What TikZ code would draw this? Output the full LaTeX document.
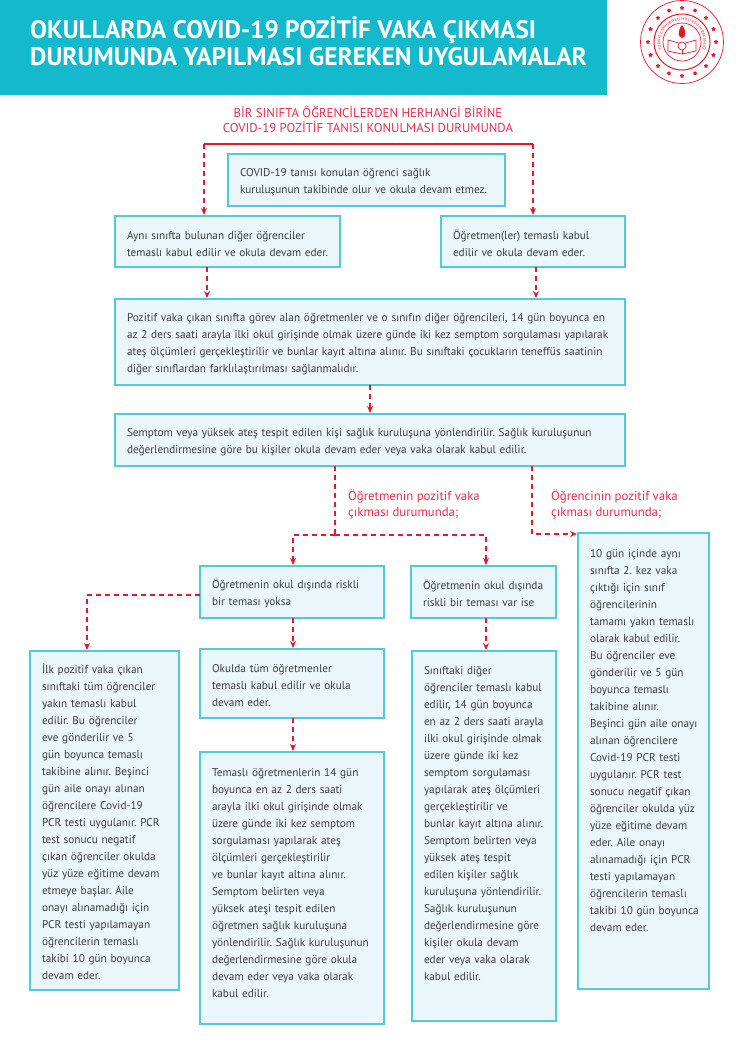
\documentclass[tikz,border=0pt]{standalone}
\usepackage{fontspec}
\setmainfont{PT Sans}
\usepackage{xcolor}
\definecolor{headcyan}{RGB}{20,185,204}
\definecolor{boxcyan}{RGB}{80,203,219}
\definecolor{boxfill}{RGB}{235,246,250}
\definecolor{flowred}{RGB}{232,24,44}
\definecolor{labelred}{RGB}{238,44,76}
\definecolor{bodygray}{RGB}{62,62,66}
\usepackage{tikz}
\usetikzlibrary{shapes.geometric, arrows.meta, positioning, calc, decorations.text}
\frenchspacing

\begin{document}
\begin{tikzpicture}[
    x=1pt, y=-1pt,
    box/.style={rectangle, draw=boxcyan, fill=boxfill, line width=1.4pt, anchor=north west, align=left, inner xsep=12pt, inner ysep=0pt, outer sep=0pt, text=bodygray, font=\fontsize{11.25}{17}\selectfont, execute at begin node={\rule{0pt}{13pt}}},
    widebox/.style={box, text width=486pt},
    arrow/.style={-{Stealth[length=7pt, width=6pt]}, flowred, line width=1.4pt, dash pattern=on 5pt off 4pt, shorten >=1pt},
    redlabel/.style={anchor=north west, align=left, inner sep=0pt, text=labelred, font=\fontsize{12.8}{16}\selectfont},
    logoline/.style={draw=flowred, line width=0.7pt}
]
\useasboundingbox (0,0) rectangle (750,1050);
\fill[white] (0,0) rectangle (750,1050);

% header band
\node[rectangle, fill=headcyan, anchor=north west, minimum width=607pt, minimum height=95pt, inner sep=0pt, outer sep=0pt] (band) at (0,0) {};
\node[anchor=north west, align=left, inner sep=0pt, text=white, font=\fontsize{25.3}{27}\selectfont\bfseries] (title) at (30,16.5) {OKULLARDA COVID-19 POZİTİF VAKA ÇIKMASI\\DURUMUNDA YAPILMASI GEREKEN UYGULAMALAR};

% logo
\node[circle, logoline, minimum size=83pt, inner sep=0pt] (logo) at (682,42) {};
\node[circle, logoline, line width=1pt, minimum size=56pt, inner sep=0pt] (logoin) at (682,42) {};
\node[circle, logoline, minimum size=38pt, inner sep=0pt] (logocore) at (682,42) {};
\foreach \a in {0,22.5,...,337.5}
    \node[star, star points=5, fill=flowred, minimum size=4.5pt, inner sep=0pt] at ($(logo.center)+(\a:34pt)$) {};
\path[postaction={decorate, decoration={text along path, text align=center, text={|\fontsize{3.9}{5}\selectfont\color{flowred}|TÜRKİYE CUMHURİYETİ MİLLİ EĞİTİM BAKANLIĞI}}}]
    ($(logo.center)+(235:21.5pt)$) arc[start angle=235, end angle=-55, radius=21.5pt];
\fill[flowred] ($(logo.center)+(0,-17)$) .. controls ($(logo.center)+(-5,-10)$) and ($(logo.center)+(-4,-5)$) .. ($(logo.center)+(0,-4)$) .. controls ($(logo.center)+(4,-5)$) and ($(logo.center)+(5,-10)$) .. ($(logo.center)+(0,-17)$);
\draw[logoline] ($(logo.center)+(-14,-2)$) -- ($(logo.center)+(0,2)$) -- ($(logo.center)+(14,-2)$) -- ($(logo.center)+(14,9)$) -- ($(logo.center)+(0,12)$) -- ($(logo.center)+(-14,9)$) -- cycle;
\draw[logoline] ($(logo.center)+(0,2)$) -- ($(logo.center)+(0,12)$);
\node[circle, fill=white, logoline, minimum size=8pt, inner sep=0pt] (logomoon) at ($(logo.center)+(0,4)$) {};

% heading
\node[anchor=north, align=center, inner sep=0pt, text=labelred, font=\fontsize{12.8}{15}\selectfont] (heading) at (368,106.5) {BİR SINIFTA ÖĞRENCİLERDEN HERHANGİ BİRİNE\\COVID-19 POZİTİF TANISI KONULMASI DURUMUNDA};
\coordinate (topl) at (204,144);
\coordinate (topr) at (533,144);

% boxes
\node[box, text width=253pt, minimum height=52pt] (covid) at (228,154) {COVID-19 tanısı konulan öğrenci sağlık\\kuruluşunun takibinde olur ve okula devam etmez.};
\node[box, text width=201pt, minimum height=51pt] (sinif) at (115,216) {Aynı sınıfta bulunan diğer öğrenciler\\\mbox{temaslı kabul edilir ve okula devam eder.}};
\node[box, text width=160pt, minimum height=51pt] (ogretmen) at (441,216) {Öğretmen(ler) temaslı kabul\\edilir ve okula devam eder.};
\node[widebox, minimum height=86pt] (pozitif) at (115,299) {Pozitif vaka çıkan sınıfta görev alan öğretmenler ve o sınıfın diğer öğrencileri, 14 gün boyunca en\\az 2 ders saati arayla ilki okul girişinde olmak üzere günde iki kez semptom sorgulaması yapılarak\\ateş ölçümleri gerçekleştirilir ve bunlar kayıt altına alınır. Bu sınıftaki çocukların teneffüs saatinin\\diğer sınıflardan farklılaştırılması sağlanmalıdır.};
\node[widebox, minimum height=52pt] (semptom) at (115,414) {Semptom veya yüksek ateş tespit edilen kişi sağlık kuruluşuna yönlendirilir. Sağlık kuruluşunun\\değerlendirmesine göre bu kişiler okula devam eder veya vaka olarak kabul edilir.};
\node[redlabel] (ogrlabel) at (348,490) {Öğretmenin pozitif vaka\\çıkması durumunda;};
\node[redlabel] (ogclabel) at (551,490) {Öğrencinin pozitif vaka\\çıkması durumunda;};
\node[box, text width=160pt, minimum height=52pt] (yoksa) at (200,566) {Öğretmenin okul dışında riskli\\bir teması yoksa};
\node[box, text width=121pt, minimum height=52pt] (varise) at (411,566) {Öğretmenin okul dışında\\riskli bir teması var ise};
\node[box, text width=125pt, minimum height=339pt] (ilk) at (30,651) {İlk pozitif vaka çıkan\\sınıftaki tüm öğrenciler\\yakın temaslı kabul\\edilir. Bu öğrenciler\\eve gönderilir ve 5\\gün boyunca temaslı\\takibine alınır. Beşinci\\gün aile onayı alınan\\öğrencilere Covid-19\\PCR testi uygulanır. PCR\\test sonucu negatif\\çıkan öğrenciler okulda\\yüz yüze eğitime devam\\etmeye başlar. Aile\\onayı alınamadığı için\\PCR testi yapılamayan\\öğrencilerin temaslı\\takibi 10 gün boyunca\\devam eder.};
\node[box, text width=160pt, minimum height=69pt] (okulda) at (200,649) {Okulda tüm öğretmenler\\temaslı kabul edilir ve okula\\devam eder.};
\node[box, text width=160pt, minimum height=272pt] (temasli) at (200,752) {Temaslı öğretmenlerin 14 gün\\boyunca en az 2 ders saati\\arayla ilki okul girişinde olmak\\üzere günde iki kez semptom\\sorgulaması yapılarak ateş\\ölçümleri gerçekleştirilir\\ve bunlar kayıt altına alınır.\\Semptom belirten veya\\yüksek ateşi tespit edilen\\öğretmen sağlık kuruluşuna\\yönlendirilir. Sağlık kuruluşunun\\değerlendirmesine göre okula\\devam eder veya vaka olarak\\kabul edilir.\\[-1pt]~};
\node[box, text width=120pt, minimum height=370pt] (diger) at (412,651) {Sınıftaki diğer\\öğrenciler temaslı kabul\\edilir, 14 gün boyunca\\en az 2 ders saati arayla\\ilki okul girişinde olmak\\üzere günde iki kez\\semptom sorgulaması\\yapılarak ateş ölçümleri\\gerçekleştirilir ve\\bunlar kayıt altına alınır.\\Semptom belirten veya\\yüksek ateş tespit\\edilen kişiler sağlık\\kuruluşuna yönlendirilir.\\Sağlık kuruluşunun\\değerlendirmesine göre\\kişiler okula devam\\eder veya vaka olarak\\kabul edilir.\\[13pt]~};
\node[box, text width=107pt, minimum height=456pt] (onguin) at (578,533) {10 gün içinde aynı\\sınıfta 2. kez vaka\\çıktığı için sınıf\\öğrencilerinin\\tamamı yakın temaslı\\olarak kabul edilir.\\Bu öğrenciler eve\\gönderilir ve 5 gün\\boyunca temaslı\\takibine alınır.\\\mbox{Beşinci gün aile onayı}\\alınan öğrencilere\\Covid-19 PCR testi\\uygulanır. PCR test\\sonucu negatif çıkan\\öğrenciler okulda yüz\\yüze eğitime devam\\eder. Aile onayı\\alınamadığı için PCR\\testi yapılamayan\\öğrencilerin temaslı\\\mbox{takibi 10 gün boyunca}\\devam eder.\\~\\[12pt]~};

% connectors
\draw[flowred, line width=1.3pt] (topl) -- (topr);
\draw[arrow] (topl) -- (topl |- sinif.north);
\draw[arrow] (topr) -- (topr |- ogretmen.north);
\draw[arrow] ([xshift=-20.5pt]sinif.south) -- ([xshift=-20.5pt]sinif.south |- pozitif.north);
\draw[arrow] ([xshift=3pt]ogretmen.south) -- ([xshift=3pt]ogretmen.south |- pozitif.north);
\draw[arrow] (pozitif.south) -- (semptom.north);
\coordinate (split) at (335,535);
\draw[arrow, -] (semptom.south -| split) -- (split);
\draw[arrow] (split) -| ([xshift=1pt]yoksa.north);
\draw[arrow] (split) -| ([xshift=2.5pt]varise.north);
\draw[arrow] (semptom.south -| 532,0) |- (onguin.north west |- 0,534);
\draw[arrow] (yoksa.west |- 0,595) -| (ilk.north -| 87,0);
\draw[arrow] ([xshift=1pt]yoksa.south) -- ([xshift=1pt]yoksa.south |- okulda.north);
\draw[arrow] ([xshift=1pt]okulda.south) -- ([xshift=1pt]okulda.south |- temasli.north);
\draw[arrow] ([xshift=2.5pt]varise.south) -- ([xshift=2.5pt]varise.south |- diger.north);
\end{tikzpicture}
\end{document}
